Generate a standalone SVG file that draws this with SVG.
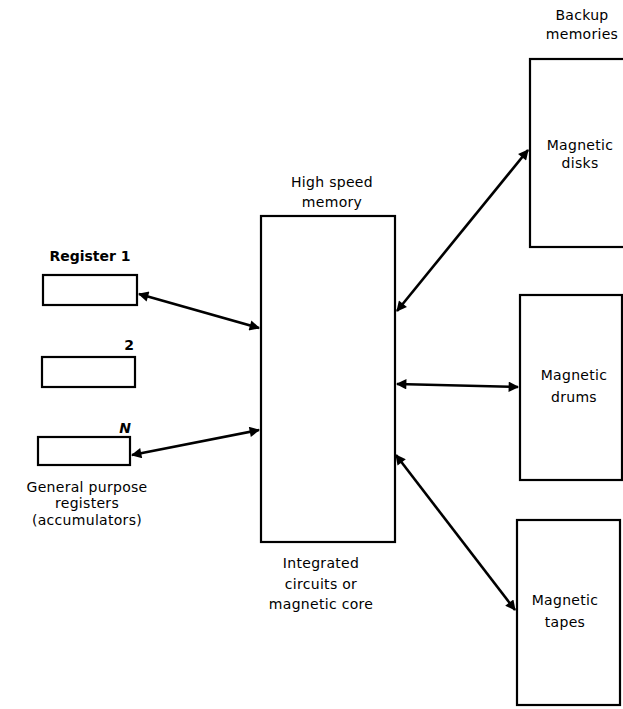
<svg xmlns="http://www.w3.org/2000/svg" width="623" height="709" viewBox="0 0 623 709">
<style>
.box{fill:none;stroke:#000;stroke-width:2.2}
.lbl{font-family:"DejaVu Sans","Liberation Sans",sans-serif;font-size:14px;letter-spacing:0.3px;fill:#000;text-anchor:middle}
.b{font-weight:bold;font-size:14px;letter-spacing:0}
.con{stroke:#000;stroke-width:2.6;fill:none;marker-start:url(#ah);marker-end:url(#ah)}
</style>
<defs>
<marker id="ah" viewBox="0 0 10 10" refX="9" refY="5" markerWidth="5.5" markerHeight="4" orient="auto-start-reverse" markerUnits="strokeWidth">
<path d="M0,0 L10,5 L0,10 Z" fill="#000"/>
</marker>
</defs>
<rect width="623" height="709" fill="#fff"/>
<g id="reg1">
<rect class="box" x="43" y="275" width="94" height="30"/>
<text class="lbl b" x="90" y="261">Register 1</text>
</g>
<g id="reg2">
<rect class="box" x="42" y="357" width="93" height="30"/>
<text class="lbl b" x="129" y="350">2</text>
</g>
<g id="regN">
<rect class="box" x="38" y="437" width="92" height="28"/>
<text class="lbl b" x="125" y="433" font-style="italic">N</text>
<text class="lbl" x="87" y="492">General purpose</text>
<text class="lbl" x="87" y="508">registers</text>
<text class="lbl" x="87" y="525">(accumulators)</text>
</g>
<g id="memory">
<rect class="box" x="261" y="216" width="134" height="326"/>
<text class="lbl" x="332" y="187">High speed</text>
<text class="lbl" x="332" y="207">memory</text>
<text class="lbl" x="321" y="568">Integrated</text>
<text class="lbl" x="321" y="589">circuits or</text>
<text class="lbl" x="321" y="609">magnetic core</text>
</g>
<g id="disks">
<rect class="box" x="530" y="59" width="100" height="188"/>
<text class="lbl" x="582" y="20">Backup</text>
<text class="lbl" x="582" y="39">memories</text>
<text class="lbl" x="580" y="150">Magnetic</text>
<text class="lbl" x="580" y="168">disks</text>
</g>
<g id="drums">
<rect class="box" x="520" y="295" width="102" height="185"/>
<text class="lbl" x="574" y="380">Magnetic</text>
<text class="lbl" x="574" y="402">drums</text>
</g>
<g id="tapes">
<rect class="box" x="517" y="520" width="103" height="185"/>
<text class="lbl" x="565" y="605">Magnetic</text>
<text class="lbl" x="565" y="627">tapes</text>
</g>
<g id="connectors">
<line class="con" x1="139" y1="294" x2="259" y2="328"/>
<line class="con" x1="132" y1="455" x2="259" y2="430"/>
<line class="con" x1="397" y1="311" x2="528" y2="150"/>
<line class="con" x1="397" y1="384" x2="518" y2="387"/>
<line class="con" x1="396" y1="455" x2="515" y2="610"/>
</g>
</svg>
